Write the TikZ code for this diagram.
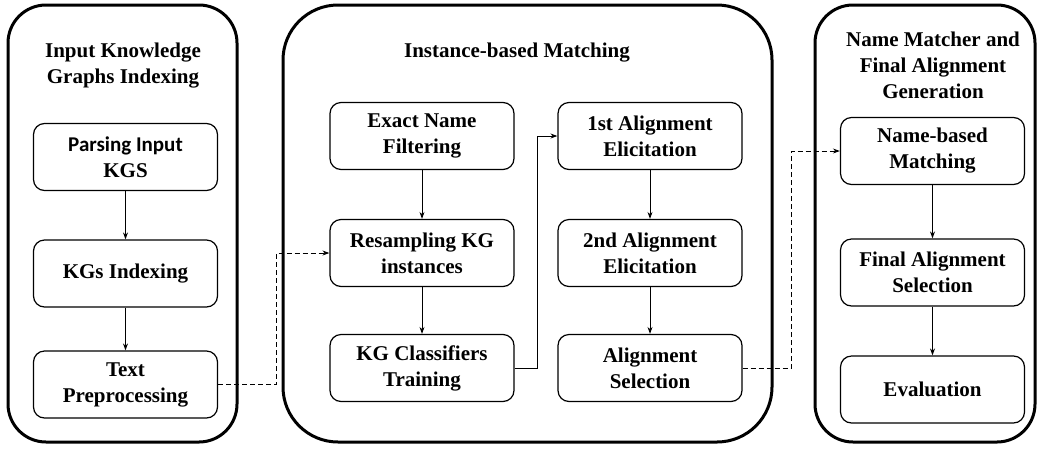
\documentclass[tikz,border=0pt]{standalone}
\usepackage{fontspec}
\setmainfont{Liberation Serif}
\newfontfamily\calfont{Carlito}
\usetikzlibrary{arrows.meta}

\begin{document}
\begin{tikzpicture}[x=1pt,y=-1pt,
    outer/.style={line width=3pt,rounded corners=38pt},
    stage/.style={draw,line width=1.2pt,rounded corners=11pt,minimum width=184pt,
        minimum height=67pt,align=center,font=\fontsize{21}{26}\selectfont\bfseries},
    title/.style={align=center,font=\fontsize{21}{26}\selectfont\bfseries},
    flow/.style={line width=1pt,-{Stealth[length=7pt,width=5pt]}},
    jump/.style={flow,dash pattern=on 5pt off 3pt}]

    \useasboundingbox (0,0) rectangle (1038,448);

    % these are the three blocks
    \draw[outer] (8,5) rectangle (237,442);
    \draw[outer,rounded corners=55pt] (283,5) rectangle (772,442);
    \draw[outer] (815,5) rectangle (1035,442);

    \node[title] (tindex) at (123,66) {Input Knowledge\\Graphs Indexing};
    \node[title] (tinst) at (517,53) {Instance-based Matching};
    \node[title] (tname) at (933,65) {Name Matcher and\\Final Alignment\\Generation};

    % these are the steps
    \node[stage] (parse) at (125.5,157) {{\calfont Parsing Input}\\KGS};
    \node[stage] (index) at (125.5,273.5) {KGs Indexing};
    \node[stage] (text) at (125.5,384.5) {Text\\Preprocessing};

    \node[stage] (exact) at (422,136) {Exact Name\\Filtering};
    \node[stage] (resamp) at (422,253) {Resampling KG\\instances};
    \node[stage] (classif) at (422,368) {KG Classifiers\\Training};

    \node[stage] (first) at (650,136) {1st Alignment\\Elicitation};
    \node[stage] (second) at (650,253) {2nd Alignment\\Elicitation};
    \node[stage] (asel) at (650,368) {Alignment\\Selection};

    \node[stage] (namem) at (932.5,151) {Name-based\\Matching};
    \node[stage] (fsel) at (932.5,272.5) {Final Alignment\\Selection};
    \node[stage] (eval) at (932.5,389.5) {Evaluation};

    \draw[flow] (parse) -- (index);
    \draw[flow] (index) -- (text);
    \draw[flow] (exact) -- (resamp);
    \draw[flow] (resamp) -- (classif);
    \draw[flow] (first) -- (second);
    \draw[flow] (second) -- (asel);
    \draw[flow] (namem) -- (fsel);
    \draw[flow] (fsel) -- (eval);

    \draw[jump] (text.east) -- ++(58,0) |- (resamp.west);
    \draw[flow] (classif.east) -- ++(23,0) |- (first.west);
    \draw[jump] (asel.east) -- ++(49,0) |- (namem.west);

\end{tikzpicture}
\end{document}
